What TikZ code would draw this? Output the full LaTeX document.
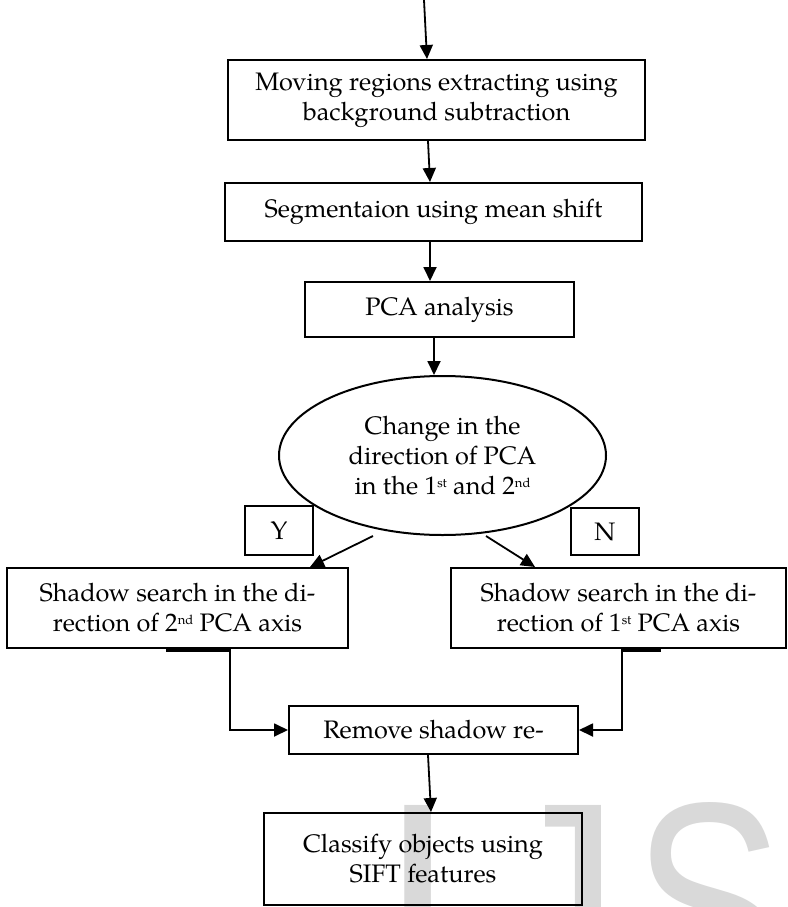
\documentclass[tikz,border=0pt]{standalone}
\usepackage{fontspec}
\setmainfont{TeX Gyre Pagella}
\newfontfamily\wmfont{Liberation Sans}
\usetikzlibrary{arrows.meta,calc,shapes.geometric}
\newcommand{\supx}[1]{\raisebox{0.62ex}{\fontsize{13}{13}\selectfont #1}}
\begin{document}
\begin{tikzpicture}[x=1pt,y=-1pt,
  box/.style={draw, line width=2pt, inner sep=0pt, align=center,
    font=\fontsize{25.3}{30}\selectfont},
  lab/.style={draw, line width=1.2pt, inner sep=0pt, align=center,
    font=\fontsize{25.3}{30}\selectfont},
  arr/.style={line width=1.8pt, -{Triangle[length=14pt,width=13pt]}},
  wm/.style={inner sep=0pt, anchor=base west, text=black!15,
    font=\wmfont\fontsize{285}{285}\selectfont}]
\useasboundingbox (0,0) rectangle (787,907);
\clip (0,0) rectangle (787,907);
\fill[white] (0,0) rectangle (787,907);
% watermark
\node[wm] (wI) at (378,1001) {I};
\begin{scope}
  \clip (545,780) rectangle (600,907);
  \node[wm] (wJ) at (480,1001) {J};
\end{scope}
\node[wm] (wS) at (633,1001) {\scalebox{0.79}[1]{S}};
% nodes
\coordinate (start) at (424,0);
\node[box, minimum width=417, minimum height=80] (b1) at (436.5,100)
  {Moving regions extracting using\\background subtraction};
\node[box, minimum width=417, minimum height=58] (b2) at (433.5,212)
  {Segmentaion using mean shift};
\node[box, minimum width=269, minimum height=55] (b3) at (439.5,309.5)
  {PCA analysis};
\node[box, ellipse, minimum width=327, minimum height=159] (ell) at (442.5,455.5)
  {Change in the\\direction of PCA\\in the 1\supx{st} and 2\supx{nd}};
\node[lab, minimum width=68, minimum height=49] (Y) at (279,530.5) {Y};
\node[lab, minimum width=68, minimum height=47] (N) at (605,531.5) {N};
\node[box, minimum width=341, minimum height=80] (L) at (177.5,608)
  {Shadow search in the di-\\rection of 2\supx{nd} PCA axis};
\node[box, minimum width=335, minimum height=80] (R) at (618.5,608)
  {Shadow search in the di-\\rection of 1\supx{st} PCA axis};
\node[box, minimum width=289, minimum height=48] (rm) at (433.5,730)
  {Remove shadow re-};
\node[box, minimum width=318, minimum height=92] (cl) at (423,859)
  {Classify objects using\\SIFT features};
% connectors
\draw[arr] (start) -- ($(b1.north)+(-9.5,0)$);
\draw[arr] ($(b1.south)+(-8.5,0)$) -- ($(b2.north)+(-3.5,0)$);
\draw[arr] ($(b2.south)+(-3.5,0)$) -- ($(b3.north)+(-9.5,0)$);
\draw[arr] ($(b3.south)+(-5.5,0)$) -- ($(ell.north)+(-8.5,0)$);
\draw[arr] ($(ell.south)+(-69.5,0)$) -- ($(L.north)+(132.5,0)$);
\draw[arr] ($(ell.south)+(43.5,0)$) -- ($(R.north)+(-83.5,0)$);
\draw[arr] ($(L.south)+(52.5,0)$) |- (rm.west);
\draw[arr] ($(R.south)+(3.5,0)$) |- (rm.east);
\draw[arr] ($(rm.south)+(-5.5,0)$) -- ($(cl.north)+(8,0)$);
% thick marks under boxes
\draw[line width=3.5pt] ($(L.south west)+(160,1)$) -- ($(L.south west)+(223,1)$);
\draw[line width=3.5pt] ($(R.south west)+(171,1)$) -- ($(R.south west)+(211,1)$);
\end{tikzpicture}
\end{document}
